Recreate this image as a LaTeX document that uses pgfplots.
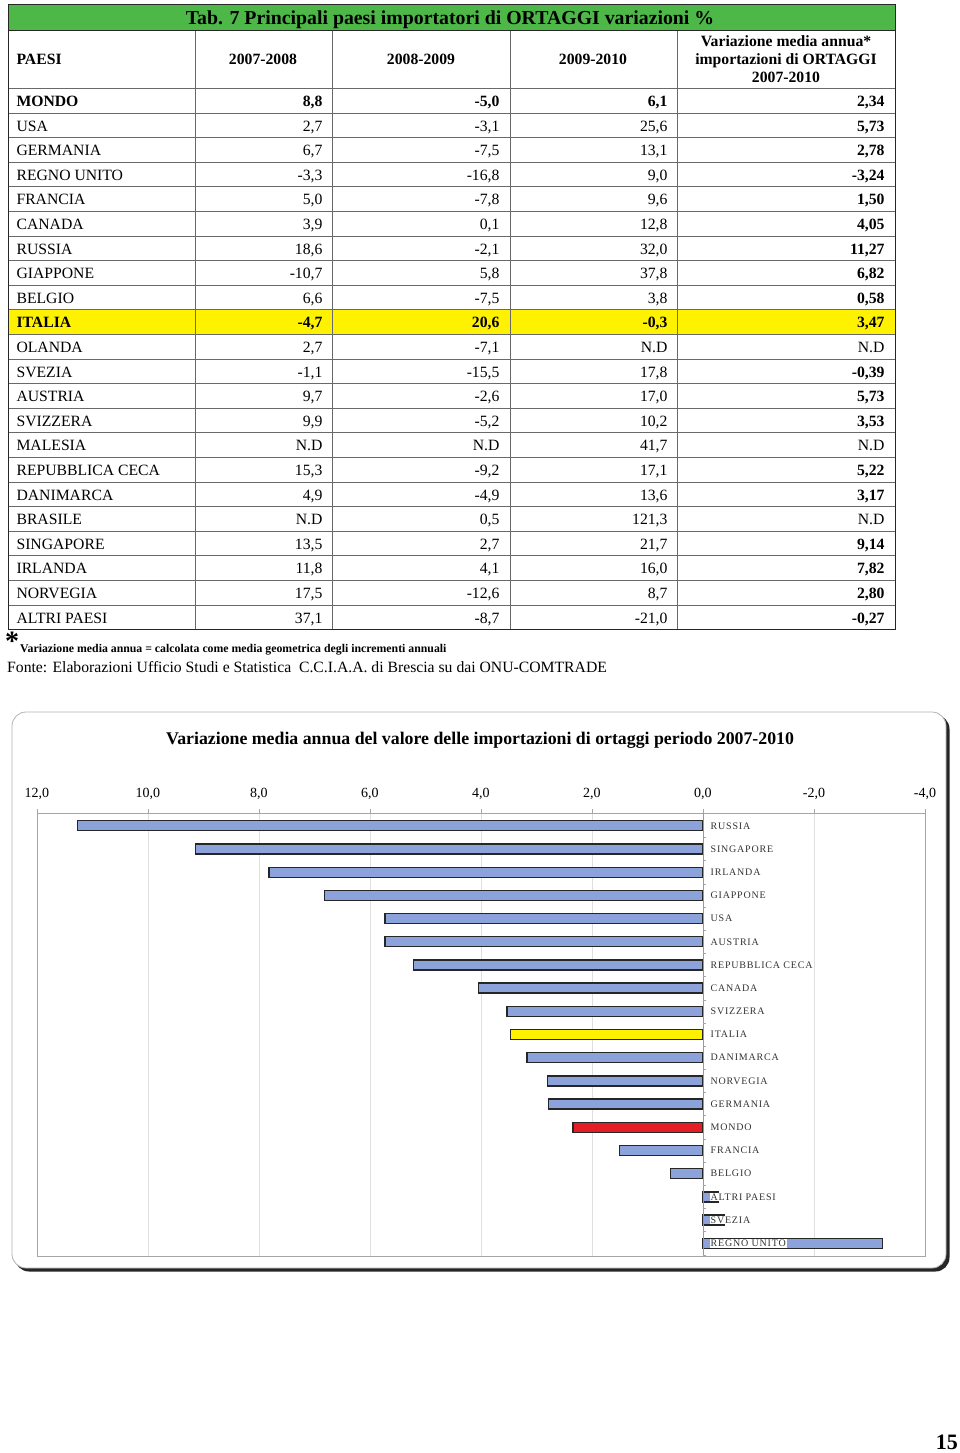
\documentclass[border=0pt]{standalone}
\usepackage{fontspec}
\setmainfont{Liberation Serif}
\newfontfamily\labfont[LetterSpace=8]{Liberation Serif}
\usepackage{pgfplots}
\pgfplotsset{compat=1.18}
\definecolor{tgreen}{RGB}{77,184,72}
\definecolor{tyellow}{RGB}{255,242,0}
\definecolor{barblue}{RGB}{140,162,218}
\definecolor{barred}{RGB}{228,30,36}
\definecolor{lineg}{RGB}{105,105,105}
\newcommand{\trow}[6]{%
  \path (13,{106.5+24.6*#1}) node[anchor=base west]{#2}
        (326,{106.5+24.6*#1}) node[anchor=base east]{#3}
        (503,{106.5+24.6*#1}) node[anchor=base east]{#4}
        (671,{106.5+24.6*#1}) node[anchor=base east]{#5}
        (888,{106.5+24.6*#1}) node[anchor=base east]{\bfseries #6};}
\newcommand{\brow}[6]{%
  \path[font={\fontsize{15.7}{18}\selectfont\bfseries}] (13,{106.5+24.6*#1}) node[anchor=base west]{#2}
        (326,{106.5+24.6*#1}) node[anchor=base east]{#3}
        (503,{106.5+24.6*#1}) node[anchor=base east]{#4}
        (671,{106.5+24.6*#1}) node[anchor=base east]{#5}
        (888,{106.5+24.6*#1}) node[anchor=base east]{#6};}
\newcommand{\lbl}[2]{\node[anchor=west, fill=white, inner sep=1pt, xshift=6.5pt, font={\labfont\fontsize{10}{12}\selectfont}, text=black!80] at (axis cs:0,#1) {#2};}
\begin{document}
\begin{tikzpicture}
\begin{scope}[x=1pt,y=-1pt]
\path[use as bounding box] (0,0) rectangle (960,1453);
% ---------- table ----------
\fill[tgreen] (8,5) rectangle (895,31);
\fill[tyellow] (8,{88.5+24.6*9}) rectangle (895,{88.5+24.6*10});
\foreach \i in {1,...,21} {\draw[lineg, line width=1pt] (8,{88.5+24.6*\i}) -- (895,{88.5+24.6*\i});}
\draw[lineg, line width=1pt] (8,88.5) -- (895,88.5);
\foreach \x in {195,332,510,677} {\draw[lineg, line width=1pt] (\x,31) -- (\x,629.1);}
\draw[black!85, line width=1pt] (8,31) -- (895,31);
\draw[black!85, line width=1pt] (8,5) rectangle (895,629.1);
\node[font=\bfseries\fontsize{19.8}{22}\selectfont, anchor=base] at (450,25) {Tab. 7 Principali paesi importatori di ORTAGGI variazioni \%};
\begin{scope}[font=\bfseries\fontsize{15.7}{18}\selectfont]
\node[anchor=base west] at (13,64.5) {PAESI};
\node[anchor=base] at (263,64.5) {2007-2008};
\node[anchor=base] at (421,64.5) {2008-2009};
\node[anchor=base] at (593,64.5) {2009-2010};
\node[align=center, anchor=center] at (786,59) {Variazione media annua*\\importazioni di ORTAGGI\\2007-2010};
\end{scope}
\begin{scope}[font=\fontsize{15.7}{18}\selectfont]
\brow{0}{MONDO}{8,8}{-5,0}{6,1}{2,34}
\trow{1}{USA}{2,7}{-3,1}{25,6}{5,73}
\trow{2}{GERMANIA}{6,7}{-7,5}{13,1}{2,78}
\trow{3}{REGNO UNITO}{-3,3}{-16,8}{9,0}{-3,24}
\trow{4}{FRANCIA}{5,0}{-7,8}{9,6}{1,50}
\trow{5}{CANADA}{3,9}{0,1}{12,8}{4,05}
\trow{6}{RUSSIA}{18,6}{-2,1}{32,0}{11,27}
\trow{7}{GIAPPONE}{-10,7}{5,8}{37,8}{6,82}
\trow{8}{BELGIO}{6,6}{-7,5}{3,8}{0,58}
\brow{9}{ITALIA}{-4,7}{20,6}{-0,3}{3,47}
\trow{10}{OLANDA}{2,7}{-7,1}{N.D}{\mdseries N.D}
\trow{11}{SVEZIA}{-1,1}{-15,5}{17,8}{-0,39}
\trow{12}{AUSTRIA}{9,7}{-2,6}{17,0}{5,73}
\trow{13}{SVIZZERA}{9,9}{-5,2}{10,2}{3,53}
\trow{14}{MALESIA}{N.D}{N.D}{41,7}{\mdseries N.D}
\trow{15}{REPUBBLICA CECA}{15,3}{-9,2}{17,1}{5,22}
\trow{16}{DANIMARCA}{4,9}{-4,9}{13,6}{3,17}
\trow{17}{BRASILE}{N.D}{0,5}{121,3}{\mdseries N.D}
\trow{18}{SINGAPORE}{13,5}{2,7}{21,7}{9,14}
\trow{19}{IRLANDA}{11,8}{4,1}{16,0}{7,82}
\trow{20}{NORVEGIA}{17,5}{-12,6}{8,7}{2,80}
\trow{21}{ALTRI PAESI}{37,1}{-8,7}{-21,0}{-0,27}
\end{scope}
\node[anchor=north west, font=\bfseries\fontsize{28}{28}\selectfont, inner sep=0pt] at (5,632) {*};
\node[anchor=base west, font=\bfseries\fontsize{11.8}{12}\selectfont, inner sep=0pt] at (20,652.5) {Variazione media annua = calcolata come media geometrica degli incrementi annuali};
\node[anchor=base west, font=\fontsize{15.7}{17}\selectfont, inner sep=0pt] at (7,672) {Fonte: Elaborazioni Ufficio Studi e Statistica\ \ C.C.I.A.A. di Brescia su dai ONU-COMTRADE};
% ---------- chart frame ----------
\fill[black!85, rounded corners=14pt] (15,715) rectangle (949.5,1271.5);
\filldraw[fill=white, draw=gray!60, line width=0.8pt, rounded corners=14pt] (12,712) rectangle (946,1268);
\node[font=\bfseries\fontsize{17.8}{20}\selectfont] at (480,740) {Variazione media annua del valore delle importazioni di ortaggi periodo 2007-2010};
\node[font=\bfseries\fontsize{22}{24}\selectfont, anchor=base east, inner sep=0pt] at (958,1449) {15};
\end{scope}
\begin{axis}[
  at={(37pt,-1256pt)}, anchor=south west,
  width=888pt, height=443pt, scale only axis,
  xmin=-4, xmax=12, x dir=reverse,
  ymin=-0.55, ymax=18.55, y dir=reverse,
  xbar, bar shift=0pt, bar width=10pt,
  xtick={-4,-2,0,2,4,6,8,10,12},
  xticklabel pos=upper,
  /pgf/number format/fixed, /pgf/number format/fixed zerofill,
  /pgf/number format/precision=1, /pgf/number format/use comma,
  /pgf/number format/assume math mode=true,
  ticklabel style={font=\fontsize{14}{16}\selectfont},
  xticklabel style={yshift=6pt},
  xtick pos=upper, xtick align=outside,
  major tick length=4pt,
  tick style={gray!70, line width=0.7pt},
  ytick=\empty,
  xmajorgrids, grid style={gray!25, line width=0.6pt},
  axis line style={gray!70, line width=0.7pt},
  clip=false,
]
\addplot[fill=barblue, draw=black!85, line width=1.3pt] coordinates {
 (11.27,0) (9.14,1) (7.82,2) (6.82,3) (5.73,4) (5.73,5) (5.22,6) (4.05,7) (3.53,8)
 (3.17,10) (2.80,11) (2.78,12) (1.50,14) (0.58,15) (-0.27,16) (-0.39,17) (-3.24,18)};
\addplot[fill=tyellow, draw=black!85, line width=1.3pt] coordinates {(3.47,9)};
\addplot[fill=barred, draw=black!85, line width=1.3pt] coordinates {(2.34,13)};
\draw[gray!80, line width=0.7pt] (axis cs:0,-0.55) -- (axis cs:0,18.55);
\pgfplotsinvokeforeach{0,...,18}{\draw[gray!70] (axis cs:0,#1+0.5) -- (axis cs:-0.06,#1+0.5);}
\lbl{0}{RUSSIA}
\lbl{1}{SINGAPORE}
\lbl{2}{IRLANDA}
\lbl{3}{GIAPPONE}
\lbl{4}{USA}
\lbl{5}{AUSTRIA}
\lbl{6}{REPUBBLICA CECA}
\lbl{7}{CANADA}
\lbl{8}{SVIZZERA}
\lbl{9}{ITALIA}
\lbl{10}{DANIMARCA}
\lbl{11}{NORVEGIA}
\lbl{12}{GERMANIA}
\lbl{13}{MONDO}
\lbl{14}{FRANCIA}
\lbl{15}{BELGIO}
\lbl{16}{ALTRI PAESI}
\lbl{17}{SVEZIA}
\lbl{18}{REGNO UNITO}
\end{axis}
\end{tikzpicture}
\end{document}
